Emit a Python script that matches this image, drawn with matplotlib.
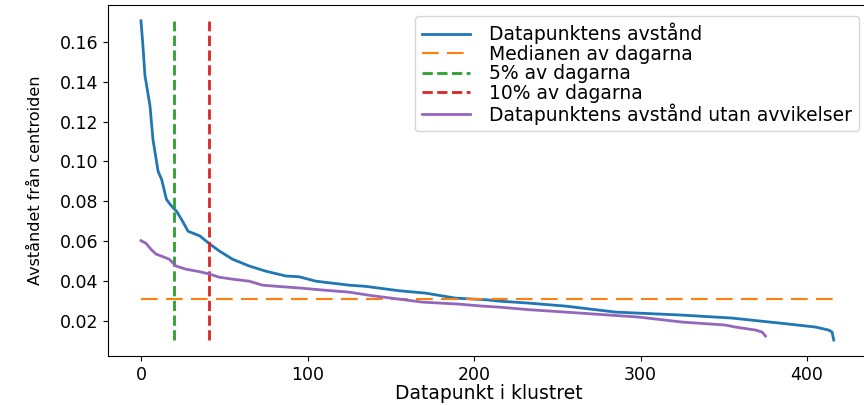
import numpy as np
import matplotlib.pyplot as plt

# avstånd för varje datapunkt (sorterat)
blue_x = [0, 1, 2.4, 3, 5.4, 7.2, 10.3, 12.4, 15.3, 18, 21.4, 25, 28.3, 35.3, 41.3, 47.3,
          55, 65, 75, 87, 95, 105, 119, 125, 135, 155, 171, 189, 207, 215, 233, 255,
          285, 325, 355, 389, 405, 413, 415, 416]
blue_y = [0.1705, 0.160, 0.143, 0.140, 0.128, 0.111, 0.095, 0.091, 0.081, 0.078, 0.075, 0.070,
          0.065, 0.0627, 0.0586, 0.055, 0.051, 0.0476, 0.045, 0.0426, 0.0422, 0.040, 0.0386,
          0.038, 0.0374, 0.0352, 0.034, 0.0315, 0.0307, 0.030, 0.029, 0.0275, 0.0245, 0.023,
          0.0215, 0.0185, 0.017, 0.0155, 0.0145, 0.0105]

# utan avvikelser
purple_x = [0, 3, 6, 9, 14, 17, 21, 27, 35, 41, 47, 55, 65, 73, 85, 95, 110, 125, 139, 155,
            169, 191, 205, 215, 233, 255, 299, 325, 351, 357, 369, 373, 375]
purple_y = [0.0603, 0.059, 0.056, 0.0536, 0.052, 0.051, 0.0476, 0.046, 0.0448, 0.0436, 0.042,
            0.041, 0.040, 0.038, 0.0372, 0.0366, 0.0355, 0.0345, 0.0327, 0.031, 0.0295, 0.0285,
            0.0275, 0.027, 0.0257, 0.0245, 0.022, 0.0195, 0.018, 0.017, 0.0155, 0.0145, 0.0125]

median = 0.031
n_points = 416
five_pct = 20
ten_pct = 41

fig = plt.figure(figsize=(8.64, 4.05), dpi=100)
ax = fig.add_axes([0.125, 0.121, 0.882, 0.867])

ax.plot(blue_x, blue_y, color='tab:blue', lw=2, label='Datapunktens avstånd')
ax.hlines(median, 0, n_points, colors='tab:orange', linestyles=(0, (8, 4)), lw=1.5,
          label='Medianen av dagarna')
ax.vlines(five_pct, min(blue_y), max(blue_y), colors='tab:green', linestyles='--', lw=2,
          label='5% av dagarna')
ax.vlines(ten_pct, min(blue_y), max(blue_y), colors='tab:red', linestyles='--', lw=2,
          label='10% av dagarna')
ax.plot(purple_x, purple_y, color='tab:purple', lw=2,
        label='Datapunktens avstånd utan avvikelser')

ax.set_xlim(-19.8, 437.8)
ax.set_ylim(0.0025, 0.1785)
ax.set_xticks([0, 100, 200, 300, 400])
ax.set_yticks([0.02, 0.04, 0.06, 0.08, 0.10, 0.12, 0.14, 0.16])
ax.tick_params(labelsize=12.5)
ax.spines['right'].set_visible(False)

ax.set_xlabel('Datapunkt i klustret', fontsize=13.5, labelpad=0)
ax.set_ylabel('Avståndet från centroiden', fontsize=11.5, labelpad=12)
ax.legend(loc='upper right', fontsize=13.5, handlelength=2.6, handletextpad=1.0,
          borderaxespad=0.6, labelspacing=0.03, borderpad=0.35)

fig.savefig('out.png', dpi=100)
